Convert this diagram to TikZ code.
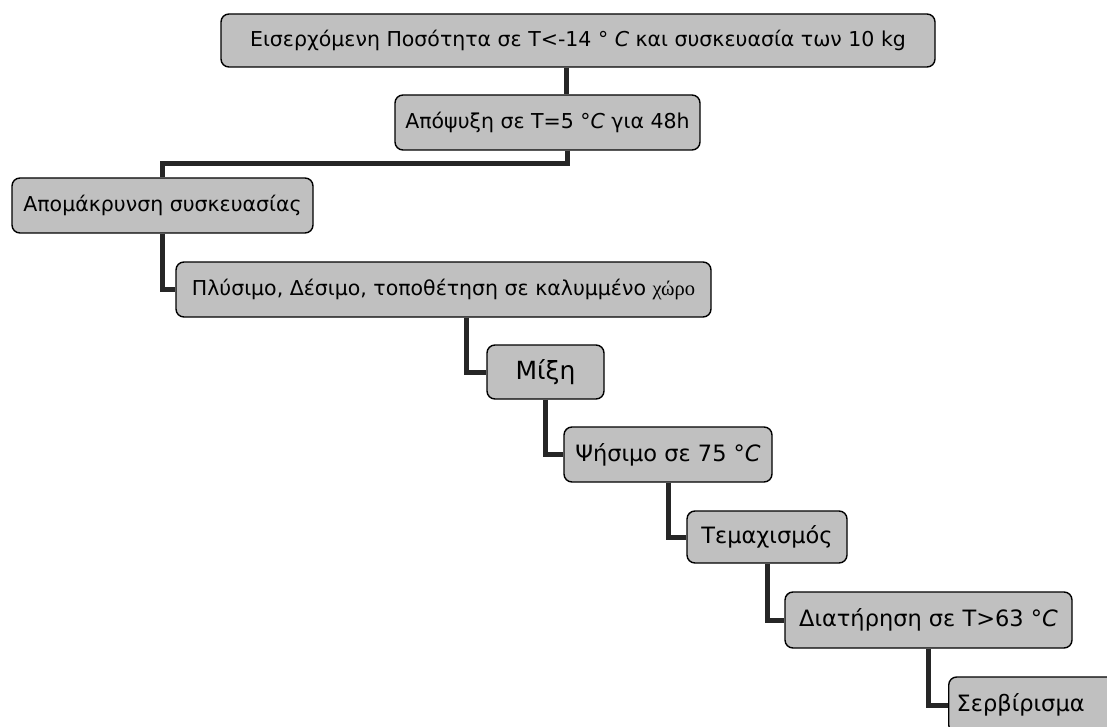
\documentclass[tikz,border=0pt]{standalone}
\usepackage{fontspec}
\setmainfont{DejaVu Sans}
\newfontfamily\serifgr{Liberation Serif}
\usetikzlibrary{backgrounds}
\definecolor{boxfill}{RGB}{192,192,192}
\definecolor{linkcol}{RGB}{38,38,38}
\tikzset{
  stepbox/.style={draw=black, line width=1.4pt, fill=boxfill, rounded corners=8pt,
    inner sep=0pt, align=center},
  small/.style={font=\fontsize{20.5}{24}\selectfont},
  large/.style={font=\fontsize{22.5}{26}\selectfont},
  link/.style={draw=linkcol, line width=5pt},
}
\begin{document}
\begin{tikzpicture}[x=1pt,y=-1pt]
\clip (0,0) rectangle (1107,727);

% process steps
\node[stepbox, small, minimum width=714pt, minimum height=53pt] (b1) at (578,40.5)
  {Εισερχόμενη Ποσότητα σε T<-14 ° \textit{C} και συσκευασία των 10 kg};
\node[stepbox, small, minimum width=305pt, minimum height=55pt] (b2) at (547.5,122.5)
  {Απόψυξη σε T=5 °\textit{C} για 48h};
\node[stepbox, small, minimum width=301pt, minimum height=55pt] (b3) at (162.5,205.5)
  {Απομάκρυνση συσκευασίας};
\node[stepbox, small, minimum width=535pt, minimum height=55pt] (b4) at (443.5,289.5)
  {Πλύσιμο, Δέσιμο, τοποθέτηση σε καλυμμένο {\serifgr χώρο}};
\node[stepbox, large, font=\fontsize{25}{28}\selectfont, minimum width=117pt, minimum height=54pt] (b5) at (545.5,372)
  {Μίξη};
\node[stepbox, large, minimum width=208pt, minimum height=55pt] (b6) at (668,454.5)
  {Ψήσιμο σε 75 °\textit{C}};
\node[stepbox, large, minimum width=160pt, minimum height=52pt] (b7) at (767,537)
  {Τεμαχισμός};
\node[stepbox, large, minimum width=287pt, minimum height=56pt] (b8) at (928.5,620)
  {Διατήρηση σε T>63 °\textit{C}};
% last step runs past the right edge of the page
\node[stepbox, large, minimum height=56pt, anchor=west] (b9) at (948,705)
  {\makebox[200pt][l]{\hspace*{8pt}Σερβίρισμα}};

% connectors behind the boxes
\begin{scope}[on background layer]
  \fill[white] (0,0) rectangle (1107,727);
  \draw[link] ([xshift=-12pt]b1.south) -- ([xshift=-12pt]b1.south |- b2.north);
  \draw[link] ([xshift=20pt]b2.south) -- ++(0,13) -| (b3.north);
  \draw[link] (b3.south) |- (b4.west);
  \draw[link] ([xshift=-20pt]b5.west |- b4.south) |- (b5.west);
  \draw[link] (b5.south) |- (b6.west);
  \draw[link] (b6.south) |- (b7.west);
  \draw[link] (b7.south) |- (b8.west);
  \draw[link] (b8.south) |- (b9.west);
\end{scope}
\end{tikzpicture}
\end{document}
